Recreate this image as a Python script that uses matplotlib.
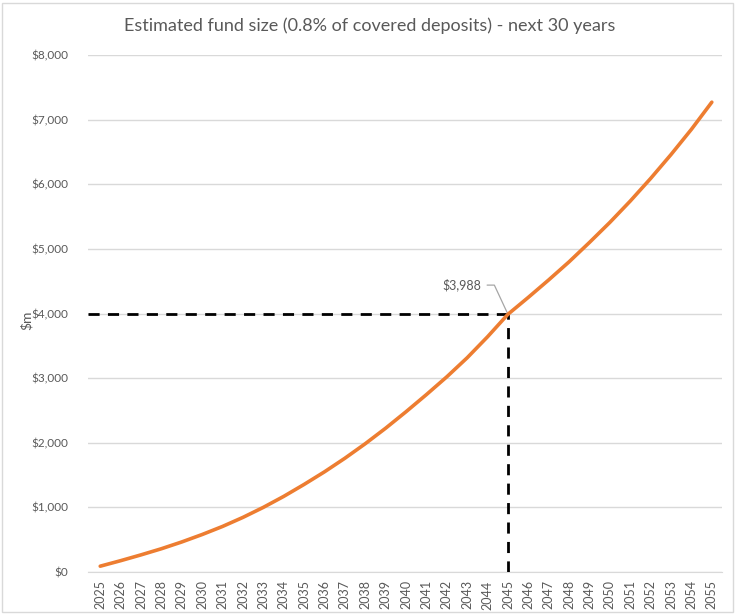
import matplotlib.pyplot as plt
from matplotlib.patches import Rectangle

# Data
years = list(range(2025, 2056))
fund = [90, 175, 265, 360, 465, 580, 705, 845, 1000, 1170,
        1355, 1550, 1760, 1985, 2225, 2480, 2745, 3020, 3315, 3640,
        3988, 4250, 4520, 4800, 5100, 5410, 5740, 6090, 6460, 6850,
        7270]
target_year = 2045
target_value = 4000
y_ticks = list(range(0, 8001, 1000))

plt.rcParams['font.family'] = ['Lato', 'DejaVu Sans']

fig = plt.figure(figsize=(7.37, 6.14), dpi=100)
ax = fig.add_axes([88 / 737, 1 - 572 / 614, (722 - 88) / 737, (572 - 55) / 614])

# light chart-area border
fig.patches.append(Rectangle((2 / 737, 2 / 614), 731 / 737, 609 / 614,
                             transform=fig.transFigure, fill=False,
                             edgecolor="#d9d9d9", linewidth=1))

ax.set_xlim(years[0] - 0.6, years[-1] + 0.5)
ax.set_ylim(0, 8000)

ax.set_yticks(y_ticks)
ax.set_yticklabels([f"${v:,}" for v in y_ticks], color="#595959", fontsize=8.5)
ax.set_xticks(years)
ax.set_xticklabels([str(y) for y in years], rotation=90, color="#595959", fontsize=9)
ax.tick_params(length=0, pad=6)
ax.tick_params(axis="y", pad=14)

ax.grid(axis="y", color="#d9d9d9", linewidth=1)
ax.set_axisbelow(True)
for side in ["left", "right", "top"]:
    ax.spines[side].set_visible(False)
ax.spines["bottom"].set_color("#d9d9d9")

# reference lines at the $4bn mark
ax.plot([ax.get_xlim()[0], target_year], [target_value, target_value],
        color="black", linestyle=(0, (4, 3)), linewidth=2, zorder=3)
ax.plot([target_year, target_year], [0, target_value],
        color="black", linestyle=(0, (4, 3)), linewidth=2, zorder=3)

ax.plot(years, fund, color="#ED7D31", linewidth=2.6, solid_capstyle="round", zorder=4)

idx = years.index(target_year)
ax.annotate(f"${fund[idx]:,}", xy=(target_year, fund[idx]), xytext=(-19, 21),
            textcoords="offset points", ha="right", va="center",
            fontsize=9, color="#595959",
            arrowprops=dict(arrowstyle="-", color="#a6a6a6", linewidth=0.9,
                            shrinkA=2, shrinkB=0,
                            connectionstyle="angle,angleA=0,angleB=115,rad=0"))

fig.text(27 / 737, 1 - 320 / 614, "$m", rotation=90, ha="center", va="center",
         fontsize=10, color="#595959")
fig.text(370 / 737, 1 - 26 / 614, "Estimated fund size (0.8% of covered deposits) - next 30 years",
         ha="center", va="center", fontsize=13, color="#595959")

fig.savefig("out.png", dpi=100)
